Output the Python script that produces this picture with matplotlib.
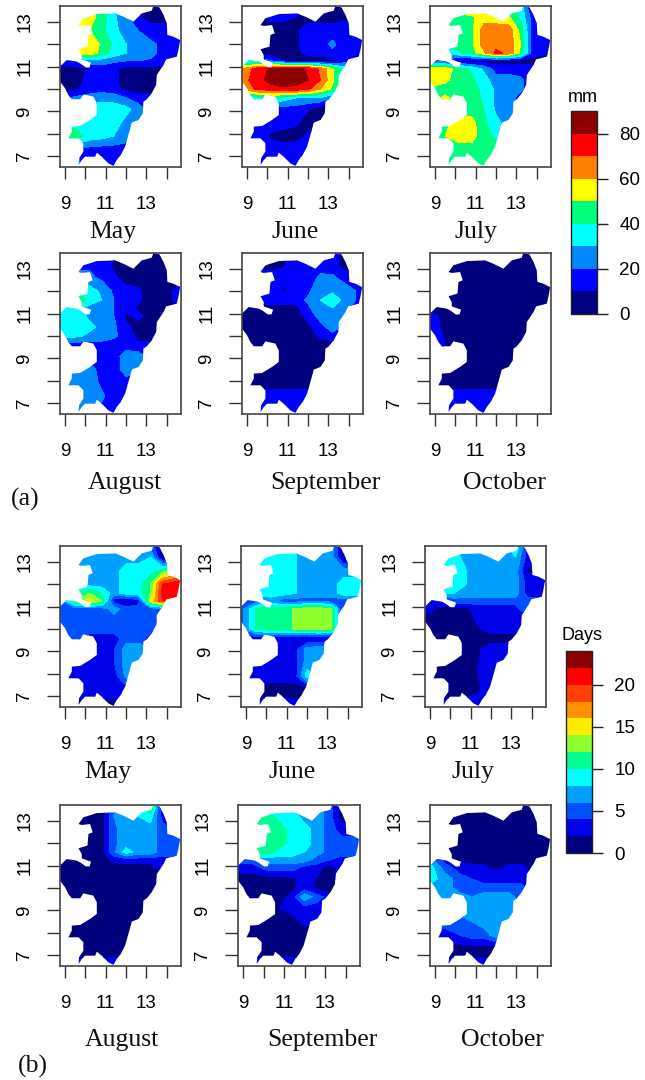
import numpy as np
import matplotlib
matplotlib.use("Agg")
import matplotlib.pyplot as plt
from matplotlib.colors import ListedColormap, BoundaryNorm
from matplotlib.cm import ScalarMappable
from matplotlib.patches import Polygon

# outline of the basin (lon, lat)
outline_lon = [13.34, 13.64, 13.84, 14.0, 14.03, 14.33, 14.66, 14.57, 14.49, 13.97, 13.84, 13.51, 13.48, 13.26,
               13.02, 12.85, 12.82, 12.61, 12.28, 12.16, 11.95, 11.74, 11.54, 11.38, 11.13, 10.80, 10.56, 10.48,
               9.98, 9.82, 9.66, 9.69, 9.90, 9.90, 9.66, 9.16, 9.33, 9.33, 9.74, 10.23, 10.56, 10.56, 10.39, 9.90,
               9.74, 9.33, 9.16, 9.0, 8.75, 8.75, 9.08, 9.57, 9.74, 10.02, 10.20, 10.28, 9.82, 9.82, 9.66, 10.10,
               10.15, 10.36, 10.23, 9.82, 9.66, 9.90, 10.56, 11.46, 11.87, 12.36, 12.77, 13.26]
outline_lat = [13.70, 13.64, 13.30, 12.93, 12.41, 12.33, 12.18, 11.74, 11.44, 11.32, 11.07, 10.62, 10.18, 9.81,
               9.54, 9.43, 8.91, 8.62, 8.50, 8.10, 7.43, 7.06, 6.83, 6.57, 6.68, 6.98, 7.16, 6.98,
               6.98, 6.83, 6.61, 6.91, 7.21, 7.58, 7.80, 7.80, 8.10, 8.32, 8.35, 8.62, 8.84, 9.36, 9.66, 9.76,
               9.54, 9.54, 9.73, 10.03, 10.33, 11.0, 11.29, 11.22, 11.14, 10.96, 10.96, 11.17, 11.32, 11.51, 11.77, 11.89,
               12.41, 12.48, 12.85, 12.81, 12.85, 13.15, 13.34, 13.37, 13.22, 13.0, 13.37, 13.49]

# grid of the fields, rows go from north to south
grid_lon = [8.75, 9.5, 10.2, 10.8, 11.4, 12.0, 12.6, 13.2, 13.8, 14.75]
grid_lat = [13.8, 13.2, 12.6, 12.0, 11.6, 11.25, 10.9, 10.4, 10.0, 9.6, 9.1, 8.5, 7.9, 7.3, 6.5]

months_top = ["May", "June", "July"]
months_bottom = ["August", "September", "October"]

# (a) rainfall, mm
rain_may = [
    [45, 45, 50, 45, 30, 20, 10, 5, 5, 5],
    [50, 55, 55, 45, 32, 22, 12, 5, 5, 5],
    [50, 52, 50, 43, 33, 25, 20, 15, 15, 10],
    [55, 55, 58, 48, 38, 30, 25, 22, 18, 12],
    [50, 52, 58, 45, 36, 30, 28, 25, 15, 10],
    [15, 20, 25, 25, 22, 20, 20, 18, 15, 10],
    [5, 5, 12, 15, 12, 7, 6, 6, 7, 7],
    [4, 5, 14, 16, 12, 6, 5, 5, 5, 5],
    [5, 8, 15, 16, 14, 6, 5, 5, 5, 5],
    [18, 22, 24, 26, 25, 20, 15, 12, 8, 5],
    [30, 32, 35, 36, 36, 33, 25, 15, 15, 15],
    [35, 36, 36, 36, 34, 27, 22, 15, 15, 15],
    [45, 45, 36, 34, 30, 25, 22, 15, 15, 15],
    [20, 20, 16, 15, 15, 15, 15, 15, 15, 15],
    [25, 25, 15, 15, 15, 15, 15, 15, 15, 15],
]
rain_june = [
    [30, 30, 30, 30, 30, 10, 5, 5, 5, 5],
    [8, 8, 12, 12, 10, 6, 5, 5, 8, 8],
    [5, 5, 5, 5, 8, 15, 15, 15, 15, 15],
    [5, 5, 5, 5, 8, 15, 16, 22, 15, 15],
    [5, 5, 5, 5, 8, 12, 14, 18, 15, 18],
    [30, 30, 20, 10, 8, 6, 5, 5, 15, 28],
    [60, 75, 82, 85, 85, 78, 68, 52, 35, 20],
    [65, 76, 84, 87, 86, 80, 70, 52, 35, 25],
    [62, 72, 76, 78, 76, 72, 60, 48, 35, 25],
    [25, 35, 40, 35, 30, 30, 28, 20, 15, 5],
    [15, 15, 15, 15, 15, 10, 5, 5, 5, 5],
    [15, 15, 15, 15, 12, 5, 5, 5, 5, 5],
    [15, 15, 8, 5, 5, 12, 15, 15, 15, 15],
    [15, 15, 15, 15, 15, 15, 15, 15, 15, 15],
    [15, 15, 15, 15, 15, 15, 15, 15, 15, 15],
]
rain_july = [
    [62, 62, 62, 62, 62, 50, 42, 35, 5, 5],
    [45, 47, 47, 48, 56, 54, 52, 38, 15, 5],
    [45, 45, 45, 48, 65, 66, 67, 47, 15, 15],
    [45, 45, 45, 48, 65, 67, 67, 50, 15, 15],
    [15, 30, 38, 45, 58, 72, 68, 48, 15, 10],
    [15, 15, 8, 5, 5, 5, 5, 5, 5, 5],
    [58, 55, 45, 38, 28, 15, 15, 15, 15, 15],
    [58, 52, 45, 42, 34, 25, 25, 22, 15, 15],
    [48, 46, 45, 45, 36, 28, 25, 22, 15, 15],
    [45, 52, 46, 46, 38, 28, 25, 15, 15, 15],
    [45, 45, 45, 45, 40, 28, 25, 25, 25, 25],
    [45, 48, 54, 54, 42, 33, 25, 25, 25, 25],
    [45, 50, 55, 54, 44, 38, 32, 25, 25, 25],
    [45, 45, 45, 46, 46, 46, 46, 46, 46, 46],
    [50, 50, 45, 45, 45, 45, 45, 45, 45, 45],
]
rain_august = [
    [15, 15, 15, 15, 15, 5, 5, 5, 5, 5],
    [15, 15, 18, 15, 8, 5, 5, 5, 5, 5],
    [25, 25, 22, 18, 12, 5, 5, 5, 5, 5],
    [42, 40, 35, 28, 18, 14, 12, 5, 5, 15],
    [47, 46, 38, 30, 20, 14, 12, 5, 5, 15],
    [38, 38, 25, 25, 20, 14, 8, 5, 5, 8],
    [36, 36, 28, 25, 20, 8, 12, 7, 5, 5],
    [36, 36, 32, 28, 22, 12, 7, 5, 5, 15],
    [35, 32, 28, 27, 22, 15, 7, 5, 15, 15],
    [15, 15, 15, 15, 15, 15, 12, 12, 15, 15],
    [15, 15, 15, 12, 15, 25, 25, 15, 15, 15],
    [25, 26, 25, 15, 14, 25, 25, 12, 15, 15],
    [25, 25, 25, 18, 14, 15, 10, 8, 8, 8],
    [25, 25, 25, 22, 14, 15, 7, 5, 5, 5],
    [25, 25, 25, 15, 15, 15, 5, 5, 5, 5],
]
rain_september = [
    [5, 5, 15, 15, 15, 15, 15, 15, 5, 5],
    [5, 5, 5, 8, 15, 15, 15, 14, 5, 5],
    [15, 15, 15, 15, 15, 15, 22, 22, 15, 15],
    [15, 15, 15, 8, 14, 18, 27, 28, 27, 15],
    [15, 15, 15, 15, 15, 22, 30, 38, 26, 15],
    [5, 5, 5, 7, 7, 18, 28, 30, 22, 15],
    [5, 5, 5, 5, 5, 13, 25, 28, 22, 15],
    [5, 5, 5, 5, 5, 8, 15, 27, 16, 15],
    [5, 5, 5, 5, 5, 5, 12, 15, 15, 5],
    [5, 5, 5, 5, 5, 5, 5, 5, 5, 5],
    [5, 5, 5, 5, 5, 5, 5, 5, 5, 5],
    [5, 5, 5, 5, 5, 5, 5, 5, 5, 5],
    [5, 5, 5, 5, 5, 5, 5, 5, 5, 5],
    [15, 15, 15, 15, 15, 15, 15, 15, 15, 15],
    [15, 15, 15, 15, 15, 15, 15, 15, 15, 15],
]
rain_october = [
    [5, 5, 5, 5, 5, 5, 5, 5, 5, 5],
    [5, 5, 5, 5, 5, 5, 5, 5, 5, 5],
    [5, 5, 5, 5, 5, 5, 5, 5, 5, 5],
    [5, 5, 5, 5, 5, 5, 5, 5, 5, 5],
    [5, 5, 5, 5, 5, 5, 5, 5, 5, 5],
    [5, 5, 5, 5, 5, 5, 5, 5, 5, 5],
    [15, 5, 5, 5, 5, 5, 5, 5, 5, 5],
    [20, 5, 5, 5, 5, 5, 5, 5, 5, 5],
    [20, 8, 5, 5, 5, 5, 5, 5, 5, 5],
    [20, 10, 5, 5, 5, 5, 5, 5, 5, 5],
    [5, 5, 5, 5, 5, 5, 5, 5, 5, 5],
    [5, 5, 5, 5, 5, 5, 5, 5, 5, 5],
    [5, 5, 5, 5, 5, 5, 5, 5, 5, 5],
    [15, 15, 15, 15, 15, 15, 15, 15, 15, 15],
    [15, 15, 15, 15, 15, 15, 15, 15, 15, 15],
]

# (b) number of days
days_may = [
    [7, 7, 7, 7, 7, 7, 7, 5, 1, 1],
    [7, 7, 7, 7, 7, 7, 7, 8, 1, 3],
    [7, 7, 7, 7, 7, 9, 9, 9, 11, 14],
    [7, 7, 7, 7, 7, 9, 9, 12, 20, 22],
    [7, 10, 12, 10, 7, 9, 9, 12, 21, 22],
    [5, 12, 15, 12, 3, 1, 3, 14, 20, 13],
    [5, 5, 5, 5, 7, 5, 5, 5, 5, 5],
    [5, 5, 5, 5, 5, 5, 5, 5, 3, 3],
    [5, 5, 5, 5, 5, 5, 5, 5, 3, 3],
    [5, 5, 3, 3, 3, 5, 5, 3, 3, 3],
    [3, 3, 3, 3, 3.8, 7, 7, 7, 7, 7],
    [3, 3, 3, 3, 3.8, 7, 7, 7, 7, 7],
    [3, 3, 3, 3, 3, 6.5, 7, 7, 7, 7],
    [3, 3, 3, 3, 3, 3, 3, 3, 3, 3],
    [1, 1, 1, 1, 1, 3, 3, 3, 3, 3],
]
days_june = [
    [9, 9, 9, 9, 8.2, 7, 9, 7, 1, 1],
    [9, 9, 9, 9, 8.2, 7, 7, 7, 1, 3],
    [9, 9, 9, 9, 8.2, 7, 7, 7, 7, 7],
    [9, 9, 9, 9, 8.2, 7, 7, 7, 9, 9],
    [9, 9, 9, 9, 8.2, 7, 7, 7, 9, 9],
    [5, 5, 7, 5, 5, 5, 5, 5, 5, 5],
    [5, 10.2, 11, 11, 12.2, 13, 13, 12.3, 3, 3],
    [5, 10.2, 11, 11, 12.2, 13, 13, 12.3, 3, 3],
    [5, 10.2, 11, 11, 12.2, 13, 13, 12.3, 3, 3],
    [3, 3, 3, 3, 2, 1.5, 2, 2, 2, 2],
    [3, 3, 3, 3, 3, 7, 7, 7, 7, 7],
    [3, 3, 3, 3, 3, 7, 7, 7, 7, 7],
    [3, 3, 3, 3, 3, 9, 7, 7, 7, 7],
    [1, 1, 1, 1, 1, 1, 1, 1, 1, 1],
    [3, 3, 3, 3, 3, 3, 3, 3, 3, 3],
]
days_july = [
    [7, 7, 7, 7, 7, 7, 7, 11, 3, 1],
    [9, 9, 9, 7, 7, 7, 7, 8, 3, 1],
    [9, 9, 9, 8, 7, 7, 7, 7, 1.5, 3],
    [9, 9, 9, 8, 7, 7, 7, 7, 3, 3],
    [8, 8, 8, 7, 7, 7, 7, 7, 3, 3],
    [3, 3, 5, 5, 5, 5, 5, 5, 5, 5],
    [3, 1.5, 1.5, 1.5, 3, 3, 3, 3, 6, 5],
    [1, 1, 1, 1, 2.5, 3, 3, 3, 3, 3],
    [1, 1, 1, 1, 1.8, 3, 3, 3, 3, 3],
    [1, 1, 1, 1, 1, 1, 1, 1, 1, 1],
    [1, 1, 1, 1, 1.8, 3, 3, 3, 3, 3],
    [1, 1, 1, 1, 2, 3, 3, 3, 3, 3],
    [1, 1, 1, 1, 2, 3, 3, 3, 3, 3],
    [1, 1, 1, 1, 1.8, 3, 3, 3, 3, 3],
    [3, 3, 3, 3, 3, 3, 3, 3, 3, 3],
]
days_august = [
    [1, 1, 1, 1, 5, 9, 9, 15, 1, 1],
    [1, 1, 1, 1, 6, 8, 8, 9, 3, 1],
    [1, 1, 1, 1, 5.5, 7, 7, 7, 5, 3],
    [1, 1, 1, 1, 5.5, 7, 7, 7, 5, 5],
    [1, 1, 1, 1, 5.5, 9, 7, 7, 5, 5],
    [1, 1, 1, 1, 2.5, 3, 3, 3, 3, 3],
    [1, 1, 1, 1, 1, 1, 1, 1, 3, 3],
    [1, 1, 1, 1, 1, 1, 1, 1, 1, 3],
    [1, 1, 1, 1, 1, 1, 1, 1, 1, 1],
    [1, 1, 1, 1, 1, 1, 1, 1, 1, 1],
    [1, 1, 1, 1, 1, 1, 1, 1, 1, 1],
    [1, 1, 1, 1, 1, 1, 1, 1, 1, 1],
    [1, 1, 1, 1, 1, 1, 1, 1, 1, 1],
    [1, 1, 1, 1, 1, 1, 1, 1, 1, 1],
    [3, 3, 3, 3, 3, 3, 3, 3, 3, 3],
]
days_september = [
    [7, 7, 7, 7, 7, 7, 7, 5, 1, 1],
    [7, 11, 11, 9, 9, 7, 7, 5, 1, 1],
    [9, 9, 11, 11, 9, 9, 7, 5, 3, 3],
    [9, 11, 11, 11, 9, 9, 7, 5, 5, 5],
    [9, 11, 11, 9, 9, 8, 7, 5, 5, 5],
    [5, 5, 7, 7, 7, 7, 5, 4, 3, 3],
    [3, 3, 5, 5, 5, 3, 3, 1, 3, 3],
    [1, 1, 1, 1, 1.5, 3, 1.8, 1, 3, 3],
    [1, 1, 1, 1, 1.5, 3, 1.5, 1, 1, 1],
    [1, 1, 1, 1, 3, 7.5, 5, 3, 3, 3],
    [1, 1, 1, 2, 3, 3, 3, 3, 3, 3],
    [1, 1, 1, 1, 1, 2.5, 2.5, 2.5, 1, 1],
    [1, 1, 1, 1, 1, 1, 1, 1, 1, 1],
    [1, 1, 1, 1, 1, 1, 1, 1, 1, 1],
    [3, 3, 3, 3, 3, 3, 1, 1, 1, 1],
]
days_october = [
    [1, 1, 1, 1, 1, 1, 1, 1, 1, 1],
    [1, 1, 1, 1, 1, 1, 1, 1, 1, 1],
    [1, 1, 1, 1, 1, 1, 1, 1, 1, 1],
    [1, 1, 1, 1, 1, 1, 1, 1, 1, 1],
    [1, 1, 1, 1, 1, 1, 1, 1, 1, 1],
    [7, 3, 1, 1, 1, 1, 1, 1, 1, 1],
    [9, 5, 3, 3, 2.5, 1.5, 2.5, 3, 1, 1],
    [9, 7, 5, 4, 3, 3, 3, 3, 3, 3],
    [7, 7, 5, 5, 5, 5, 5, 5, 3, 3],
    [7, 7, 7, 6, 7, 7, 7, 5, 3, 3],
    [7, 7, 7, 7, 7, 7, 7, 7, 7, 7],
    [5, 5, 5, 6, 7, 7, 7, 7, 7, 7],
    [3, 3, 4, 5, 5, 7, 6.5, 6, 6, 6],
    [1, 1, 1, 1, 1, 1, 1, 1, 1, 1],
    [3, 3, 3, 3, 3, 3, 3, 3, 3, 3],
]

rain_levels = [0, 10, 20, 30, 40, 50, 60, 70, 80, 90]
rain_colors = ["#00007f", "#0000ff", "#0088ff", "#00ffff", "#00ff7f", "#ffff00", "#ff7f00", "#ff0000", "#8b0000"]
days_levels = [0, 2, 4, 6, 8, 10, 12, 14, 16, 18, 20, 22, 24]
days_colors = ["#00007f", "#0000e8", "#0050ff", "#00a0ff", "#00ffff", "#00ff90", "#90ff30", "#ffec00",
               "#ff9000", "#ff4000", "#ff0000", "#8b0000"]

W, H = 645, 1080
plt.rcParams["font.family"] = ["Liberation Sans", "DejaVu Sans"]
fig = plt.figure(figsize=(W / 100, H / 100), dpi=100)


def add_box(x0, x1, y0, y1):
    # pixel box of the picture (y from the top) to figure fractions
    return fig.add_axes([x0 / W, 1 - y1 / H, (x1 - x0) / W, (y1 - y0) / H])


def draw_map(box, field, levels, colors):
    ax = add_box(*box)
    cmap = ListedColormap(colors)
    norm = BoundaryNorm(levels, cmap.N)
    cs = ax.contourf(grid_lon, grid_lat, np.array(field), levels=levels, cmap=cmap, norm=norm)
    land = Polygon(np.column_stack([outline_lon, outline_lat]), closed=True, transform=ax.transData,
                   facecolor="none", edgecolor="none")
    ax.add_patch(land)
    cs.set_clip_path(land)
    ax.set_xlim(8.75, 14.7)
    ax.set_ylim(6.52, 13.7)
    ax.set_xticks([9, 10, 11, 12, 13, 14])
    ax.set_xticklabels(["9", "", "11", "", "13", ""])
    ax.set_yticks([7, 8, 9, 10, 11, 12, 13])
    ax.set_yticklabels(["7", "", "9", "", "11", "", "13"], rotation=90, va="center")
    ax.tick_params(axis="x", length=8.6, width=1, color="#333333", labelsize=13.5, pad=12)
    ax.tick_params(axis="y", length=9.2, width=1, color="#333333", labelsize=13.5, pad=10)
    for s in ax.spines.values():
        s.set_color("#444444")
        s.set_linewidth(1.2)


def draw_bar(box, levels, colors, ticks, title, title_xy):
    cax = add_box(*box)
    cmap = ListedColormap(colors)
    norm = BoundaryNorm(levels, cmap.N)
    cb = fig.colorbar(ScalarMappable(norm=norm, cmap=cmap), cax=cax, ticks=ticks, spacing="proportional")
    cb.ax.minorticks_off()
    cb.ax.tick_params(length=8, width=1, color="#222222", labelsize=13.5, pad=8)
    cb.outline.set_linewidth(1)
    cb.outline.set_edgecolor("#222222")
    fig.text(title_xy[0] / W, 1 - title_xy[1] / H, title, fontsize=13, ha="center", va="center")


def month_label(x, y, text):
    fig.text(x / W, 1 - y / H, text, family=["Liberation Serif"], fontsize=18.5, ha="center", va="center",
             color="#111111")


panels = [
    ((60, 181, 6, 167), rain_may, rain_levels, rain_colors),
    ((242, 363, 6, 167), rain_june, rain_levels, rain_colors),
    ((430, 551, 6, 167), rain_july, rain_levels, rain_colors),
    ((60, 181, 253, 414), rain_august, rain_levels, rain_colors),
    ((242, 363, 253, 414), rain_september, rain_levels, rain_colors),
    ((430, 551, 253, 414), rain_october, rain_levels, rain_colors),
    ((60, 181, 546, 707), days_may, days_levels, days_colors),
    ((241, 362, 546, 707), days_june, days_levels, days_colors),
    ((425, 546, 546, 707), days_july, days_levels, days_colors),
    ((60, 181, 805, 966), days_august, days_levels, days_colors),
    ((238, 360, 805, 966), days_september, days_levels, days_colors),
    ((430, 551, 805, 966), days_october, days_levels, days_colors),
]
for box, field, levels, colors in panels:
    draw_map(box, field, levels, colors)

for x, y, name in zip([113, 295, 476], [232] * 3, months_top):
    month_label(x, y, name)
for x, y, name in zip([125, 325, 505], [483] * 3, months_bottom):
    month_label(x, y, name)
for x, y, name in zip([108, 292, 473], [772] * 3, months_top):
    month_label(x, y, name)
for x, y, name in zip([122, 322, 503], [1040] * 3, months_bottom):
    month_label(x, y, name)

month_label(25, 499, "(a)")
month_label(33, 1066, "(b)")

draw_bar((571, 597, 111, 314), rain_levels, rain_colors, [0, 20, 40, 60, 80], "mm", (583, 97))
draw_bar((566, 592, 651, 853), days_levels, days_colors, [0, 5, 10, 15, 20], "Days", (582, 636))

fig.savefig("out.png", dpi=100)
